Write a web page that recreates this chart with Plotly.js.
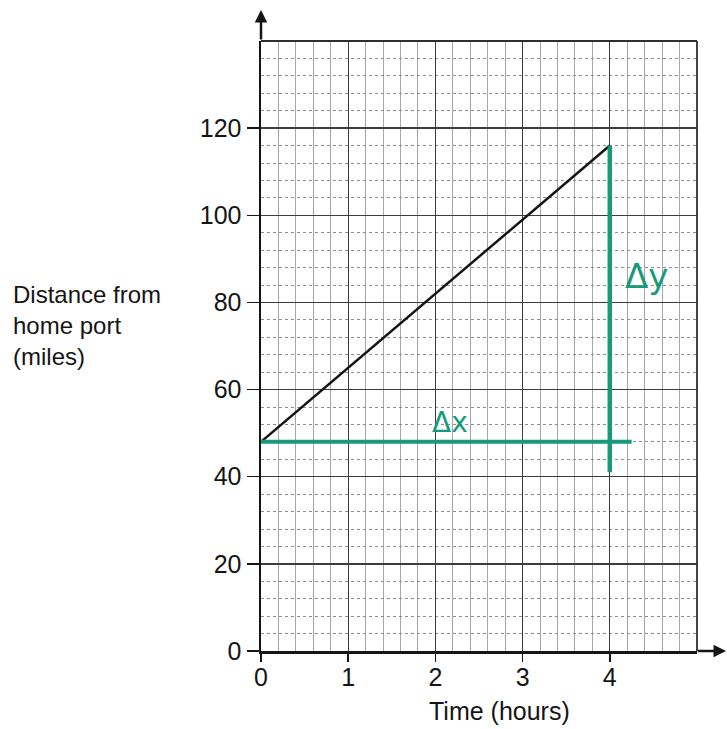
<!DOCTYPE html>
<html>
<head>
<meta charset="utf-8">
<script src="https://cdn.plot.ly/plotly-3.0.1.min.js"></script>
<style>
  html, body { margin: 0; padding: 0; background: #ffffff; }
  #chart { width: 727px; height: 729px; }
</style>
</head>
<body>
<div id="chart"></div>
<script>
// Boat journey: distance from home port against time
const timeHours = [0, 4];
const distanceMiles = [48, 116];

// Change-in-x and change-in-y construction lines (green pen)
const deltaXTime = [0, 4.25];
const deltaXDistance = [48, 48];
const deltaYTime = [4, 4];
const deltaYDistance = [41, 116];

// Axis tick values and labels
const xTickVals = [0, 1, 2, 3, 4];
const xTickText = ['0', '1', '2', '3', '4'];
const yTickVals = [0, 20, 40, 60, 80, 100, 120];
const yTickText = ['0', '20', '40', '60', '80', '100', '120'];

const ink = '#151515';
const pen = '#179a7b';
const fontFamily = '"Liberation Sans", Arial, sans-serif';

const traces = [
  {
    x: timeHours, y: distanceMiles, type: 'scatter', mode: 'lines',
    line: { color: ink, width: 2.5 }, hoverinfo: 'skip', showlegend: false
  },
  {
    x: deltaXTime, y: deltaXDistance, type: 'scatter', mode: 'lines',
    line: { color: pen, width: 4 }, hoverinfo: 'skip', showlegend: false
  },
  {
    x: deltaYTime, y: deltaYDistance, type: 'scatter', mode: 'lines',
    line: { color: pen, width: 4.5 }, hoverinfo: 'skip', showlegend: false
  }
];

const layout = {
  width: 727, height: 729,
  margin: { l: 261, r: 30, t: 41, b: 78 },
  paper_bgcolor: '#ffffff', plot_bgcolor: '#ffffff',
  showlegend: false,
  font: { family: fontFamily, color: ink, size: 25 },
  xaxis: {
    range: [0, 5], fixedrange: true,
    tickmode: 'array', tickvals: xTickVals, ticktext: xTickText,
    ticks: 'outside', ticklen: 8, tickwidth: 1.5, tickcolor: ink,
    ticklabelstandoff: -6,
    tickfont: { family: fontFamily, size: 25, color: ink },
    showline: true, linecolor: ink, linewidth: 2.5,
    showgrid: true, gridcolor: '#3c3c3c', gridwidth: 1.3,
    zeroline: false,
    minor: { dtick: 0.2, showgrid: true, gridcolor: '#a6a6a6', gridwidth: 1, ticks: '' }
  },
  yaxis: {
    range: [0, 140], fixedrange: true,
    tickmode: 'array', tickvals: yTickVals, ticktext: yTickText,
    ticks: 'outside', ticklen: 12, tickwidth: 1.5, tickcolor: ink,
    tickfont: { family: fontFamily, size: 25, color: ink },
    showline: true, linecolor: ink, linewidth: 2.5,
    showgrid: true, gridcolor: '#3c3c3c', gridwidth: 1.3,
    zeroline: false,
    minor: { dtick: 4, showgrid: true, gridcolor: '#8e8e8e', gridwidth: 1, griddash: 'dot', ticks: '' }
  },
  shapes: [
    // outer frame of the graph paper (top and right edges)
    { type: 'line', xref: 'paper', yref: 'paper', x0: 0, x1: 1, y0: 1, y1: 1,
      line: { color: '#2e2e2e', width: 1.8 } },
    { type: 'line', xref: 'paper', yref: 'paper', x0: 1, x1: 1, y0: 0, y1: 1,
      line: { color: '#2e2e2e', width: 1.8 } }
  ],
  annotations: [
    // axis arrows
    { xref: 'paper', yref: 'paper', x: 0, y: 1.051, ax: 0, ay: 31, text: '',
      showarrow: true, arrowhead: 2, arrowsize: 1, arrowwidth: 2.5, arrowcolor: ink },
    { xref: 'paper', yref: 'paper', x: 1.067, y: 0, ax: -30, ay: 0, text: '',
      showarrow: true, arrowhead: 2, arrowsize: 1, arrowwidth: 2.5, arrowcolor: ink },
    // axis titles
    { xref: 'paper', yref: 'paper', x: 0.548, y: -0.099, xanchor: 'center', yanchor: 'middle',
      text: 'Time (hours)', showarrow: false,
      font: { family: fontFamily, size: 25, color: ink } },
    { xref: 'paper', yref: 'paper', x: -0.573, y: 0.533, xanchor: 'left', yanchor: 'middle',
      align: 'left', text: 'Distance from<br>home port<br>(miles)', showarrow: false,
      font: { family: fontFamily, size: 24, color: ink } },
    // pen labels
    { xref: 'x', yref: 'y', x: 2.17, y: 52.5, text: 'Δx', showarrow: false,
      font: { family: '"DejaVu Sans", sans-serif', size: 28, color: pen } },
    { xref: 'x', yref: 'y', x: 4.42, y: 86, text: 'Δy', showarrow: false,
      font: { family: '"DejaVu Sans", sans-serif', size: 34, color: pen } }
  ]
};

Plotly.newPlot('chart', traces, layout, { staticPlot: true, displayModeBar: false });
</script>
</body>
</html>
